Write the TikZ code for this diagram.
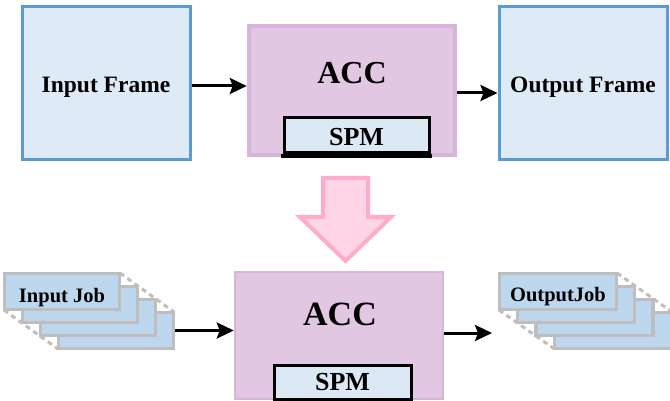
\documentclass[tikz,border=0pt]{standalone}
\usepackage{fontspec}
\setmainfont{Liberation Serif}
\usetikzlibrary{arrows.meta}
\definecolor{frameblue}{RGB}{91,155,213}
\definecolor{framefill}{RGB}{222,234,246}
\definecolor{accfill}{RGB}{226,199,227}
\definecolor{accborder}{RGB}{214,180,219}
\definecolor{spmfill}{RGB}{220,232,244}
\definecolor{jobfill}{RGB}{189,215,238}
\definecolor{jobborder}{RGB}{190,190,190}
\definecolor{pinkfill}{RGB}{255,212,229}
\definecolor{pinkborder}{RGB}{255,172,202}
\newcommand{\lowered}[2]{\raisebox{-#1}[0pt][0pt]{#2}}
\tikzset{
  framebox/.style={draw=frameblue, fill=framefill, line width=3pt, inner sep=0pt,
    minimum width=168pt, minimum height=153pt, font=\bfseries\fontsize{23.5}{26}\selectfont},
  accbox/.style={draw=accborder, fill=accfill, inner sep=0pt},
  spmbox/.style={draw=black, fill=spmfill, line width=3pt, inner sep=0pt,
    font=\bfseries\fontsize{26}{28}\selectfont},
  acclabel/.style={inner sep=0pt, font=\bfseries\fontsize{32}{34}\selectfont},
  jobbox/.style={draw=jobborder, fill=jobfill, line width=3.5pt, inner sep=0pt,
    minimum width=115pt, minimum height=36pt, font=\bfseries\fontsize{20.5}{22}\selectfont},
  jobdash/.style={draw=jobborder, line width=3pt, dash pattern=on 5pt off 4pt},
  arr/.style={line width=3pt, -{Stealth[length=17pt,width=16pt,inset=3pt]}},
}
\begin{document}
\begin{tikzpicture}[x=1pt,y=-1pt]
\useasboundingbox (0,0) rectangle (670,401);
\clip (0,0) rectangle (670,401);

% top row
\node[framebox] (in) at (106,83.5) {\lowered{9pt}{Input Frame}};
\node[framebox] (out) at (583,83.5) {\lowered{9pt}{Output Frame}};
\node[accbox, line width=4.5pt, minimum width=206pt, minimum height=129pt] (acc1) at (352,90.5) {};
\node[acclabel] (acc1t) at (352,73) {ACC};
\node[spmbox, minimum width=145pt, minimum height=35pt] (spm1) at (356.5,135.5) {\lowered{10pt}{SPM}};
\draw[line width=3.5pt] ([xshift=-1.5pt,yshift=-1.5pt]spm1.south west) -- ([xshift=1.5pt,yshift=-1.5pt]spm1.south east);

\draw[arr] ([yshift=-2.5pt]in.east) -- ([yshift=-2.5pt]in.east -| acc1.west);
\draw[arr] ([yshift=-2.5pt]acc1.east) -- ([yshift=-2.5pt]acc1.east -| out.west);

% pink arrow
\draw[draw=pinkborder, fill=pinkfill, line width=4pt, line join=miter]
  (323,178) -- (368,178) -- (368,217) -- (391,217) -- (345.5,261) -- (300,217) -- (323,217) -- cycle;

% bottom ACC
\node[accbox, line width=2.5pt, minimum width=208pt, minimum height=127pt] (acc2) at (339,335.5) {};
\node[acclabel, font=\bfseries\fontsize{34}{36}\selectfont] (acc2t) at (340,314) {ACC};
\node[spmbox, minimum width=137pt, minimum height=34pt] (spm2) at (342.5,382) {SPM};

% input job stack
\node[jobbox] (ij4) at (116,330.5) {};
\node[jobbox] (ij3) at (98,317.5) {};
\node[jobbox] (ij2) at (80,304.5) {};
\draw[jobdash] (4,310) -- (58,349);
\draw[jobdash] (120,273) -- (174,312);
\node[jobbox] (ij1) at (62,291.5) {\lowered{10.5pt}{Input Job}};

% output job stack
\node[jobbox, minimum width=117pt] (oj4) at (613,330.5) {};
\node[jobbox, minimum width=117pt] (oj3) at (594.5,317.5) {};
\node[jobbox, minimum width=117pt] (oj2) at (576,304.5) {};
\draw[jobdash] (499,310) -- (554.5,349);
\draw[jobdash] (617,273) -- (672,312);
\node[jobbox, minimum width=117pt] (oj1) at (558,291.5) {\lowered{10pt}{OutputJob}};

\draw[arr] (ij4.east) -- (ij4.east -| acc2.west);
\coordinate (ojend) at (492,333);
\draw[arr] (acc2.east |- ojend) -- (ojend);
\end{tikzpicture}
\end{document}
